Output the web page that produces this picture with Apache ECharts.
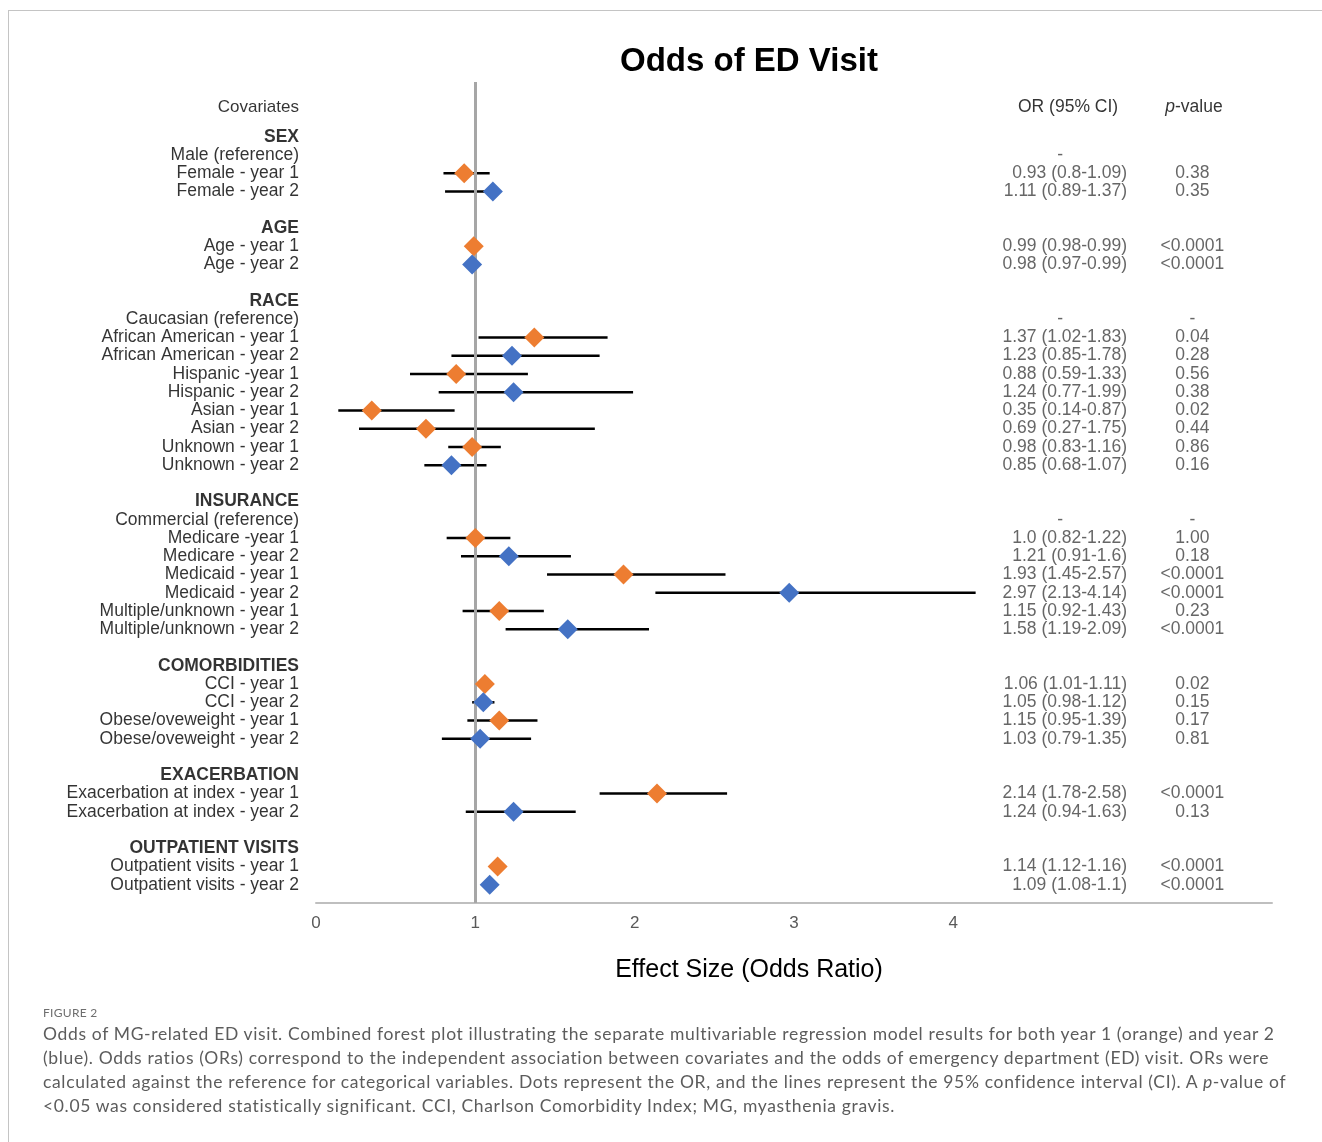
<!DOCTYPE html>
<html>
<head>
    <meta charset="utf-8">
    <title>Odds of ED Visit</title>
    <script src="https://cdn.jsdelivr.net/npm/echarts@6/dist/echarts.min.js"></script>
    <style>
        body { margin: 0; background: #fff; }
        #frame { position: absolute; left: 8px; top: 10px; width: 1400px; height: 1200px;
                 border-left: 1px solid #c4c4c4; border-top: 1px solid #c4c4c4; }
        #chart { position: absolute; left: 0; top: 0; width: 1322px; height: 1142px; }
        #caption { position: absolute; left: 43px; top: 1004px; font-family: Lato, "Open Sans", sans-serif; color: #5c5c5c; }
        #caption .fig { font-size: 12px; line-height: 18px; color: #6e6e6e; letter-spacing: 0.3px; }
        #caption .cap { font-size: 17.5px; line-height: 24px; white-space: nowrap; letter-spacing: 0.65px; }
    </style>
</head>
<body>
<div id="frame"></div>
<!-- 森林图容器 -->
<div id="chart"></div>
<div id="caption">
    <div class="fig">FIGURE 2</div>
    <div class="cap">Odds of MG-related ED visit. Combined forest plot illustrating the separate multivariable regression model results for both year 1 (orange) and year 2<br>(blue). Odds ratios (ORs) correspond to the independent association between covariates and the odds of emergency department (ED) visit. ORs were<br>calculated against the reference for categorical variables. Dots represent the OR, and the lines represent the 95% confidence interval (CI). A <i>p</i>-value of<br>&lt;0.05 was considered statistically significant. CCI, Charlson Comorbidity Index; MG, myasthenia gravis.</div>
</div>
<script type="text/javascript">

    // 行标签（空字符串为空行）
    var rowLabels = [
        'SEX', 'Male (reference)', 'Female - year 1', 'Female - year 2', '',
        'AGE', 'Age - year 1', 'Age - year 2', '',
        'RACE', 'Caucasian (reference)', 'African American - year 1', 'African American - year 2',
        'Hispanic -year 1', 'Hispanic - year 2', 'Asian - year 1', 'Asian - year 2',
        'Unknown - year 1', 'Unknown - year 2', '',
        'INSURANCE', 'Commercial (reference)', 'Medicare -year 1', 'Medicare - year 2',
        'Medicaid - year 1', 'Medicaid - year 2', 'Multiple/unknown - year 1', 'Multiple/unknown - year 2', '',
        'COMORBIDITIES', 'CCI - year 1', 'CCI - year 2', 'Obese/oveweight - year 1', 'Obese/oveweight - year 2', '',
        'EXACERBATION', 'Exacerbation at index - year 1', 'Exacerbation at index - year 2', '',
        'OUTPATIENT VISITS', 'Outpatient visits - year 1', 'Outpatient visits - year 2'
    ];
    var sectionNames = ['SEX', 'AGE', 'RACE', 'INSURANCE', 'COMORBIDITIES', 'EXACERBATION', 'OUTPATIENT VISITS'];

    // 右侧两列文字
    var orText = [
        '', '-', '0.93 (0.8-1.09)', '1.11 (0.89-1.37)', '',
        '', '0.99 (0.98-0.99)', '0.98 (0.97-0.99)', '',
        '', '-', '1.37 (1.02-1.83)', '1.23 (0.85-1.78)', '0.88 (0.59-1.33)', '1.24 (0.77-1.99)',
        '0.35 (0.14-0.87)', '0.69 (0.27-1.75)', '0.98 (0.83-1.16)', '0.85 (0.68-1.07)', '',
        '', '-', '1.0 (0.82-1.22)', '1.21 (0.91-1.6)', '1.93 (1.45-2.57)', '2.97 (2.13-4.14)',
        '1.15 (0.92-1.43)', '1.58 (1.19-2.09)', '',
        '', '1.06 (1.01-1.11)', '1.05 (0.98-1.12)', '1.15 (0.95-1.39)', '1.03 (0.79-1.35)', '',
        '', '2.14 (1.78-2.58)', '1.24 (0.94-1.63)', '',
        '', '1.14 (1.12-1.16)', '1.09 (1.08-1.1)'
    ];
    var pText = [
        '', '', '0.38', '0.35', '',
        '', '<0.0001', '<0.0001', '',
        '', '-', '0.04', '0.28', '0.56', '0.38', '0.02', '0.44', '0.86', '0.16', '',
        '', '-', '1.00', '0.18', '<0.0001', '<0.0001', '0.23', '<0.0001', '',
        '', '0.02', '0.15', '0.17', '0.81', '',
        '', '<0.0001', '0.13', '',
        '', '<0.0001', '<0.0001'
    ];

    // 绘制的点：所在行、OR、置信区间、颜色组
    var ptRow   = [2, 3, 6, 7, 11, 12, 13, 14, 15, 16, 17, 18, 22, 23, 24, 25, 26, 27, 30, 31, 32, 33, 36, 37, 40, 41];
    var ptOR    = [0.93, 1.11, 0.99, 0.98, 1.37, 1.23, 0.88, 1.24, 0.35, 0.69, 0.98, 0.85, 1.0, 1.21, 1.93, 2.97, 1.15, 1.58, 1.06, 1.05, 1.15, 1.03, 2.14, 1.24, 1.14, 1.09];
    var ptLow   = [0.80, 0.81, 0.98, 0.97, 1.02, 0.85, 0.59, 0.77, 0.14, 0.27, 0.83, 0.68, 0.82, 0.91, 1.45, 2.13, 0.92, 1.19, 1.01, 0.98, 0.95, 0.79, 1.78, 0.94, 1.12, 1.08];
    var ptHigh  = [1.09, 1.12, 0.99, 0.99, 1.83, 1.78, 1.33, 1.99, 0.87, 1.75, 1.16, 1.07, 1.22, 1.6, 2.57, 4.14, 1.43, 2.09, 1.11, 1.12, 1.39, 1.35, 2.58, 1.63, 1.16, 1.1];
    var ptGroup = ['o', 'b', 'o', 'b', 'o', 'b', 'o', 'b', 'o', 'o', 'o', 'b', 'o', 'b', 'o', 'b', 'o', 'b', 'o', 'b', 'o', 'b', 'o', 'b', 'o', 'b'];

    var xTicks = [0, 1, 2, 3, 4];

    var FONT = '"Liberation Sans", Arial, sans-serif';
    var ORANGE = '#ED7D31', BLUE = '#4472C4';
    var FS = 17.5;

    var myChart = echarts.init(document.getElementById('chart'));

    var ciData = [], orangePts = [], bluePts = [];
    ptRow.forEach(function (r, i) {
        ciData.push([ptLow[i], ptHigh[i], r]);
        if (ptGroup[i] === 'o') orangePts.push([ptOR[i], r]);
        else bluePts.push([ptOR[i], r]);
    });

    var labelData = [{value: [0, -1.6], name: 'Covariates', label: {fontSize: 17}}];
    var orData = [], pData = [];
    rowLabels.forEach(function (t, i) {
        if (t) {
            labelData.push({
                value: [0, i], name: t,
                label: {fontWeight: sectionNames.indexOf(t) >= 0 ? 'bold' : 'normal'}
            });
        }
        if (orText[i] === '-') {
            orData.push({value: [4.67, i], name: '-', label: {position: 'inside'}});
        } else if (orText[i]) {
            orData.push({value: [5.09, i], name: orText[i]});
        }
        if (pText[i]) pData.push({value: [5.5, i], name: pText[i]});
    });

    myChart.setOption({
        animation: false,
        textStyle: {fontFamily: FONT},
        title: {
            text: 'Odds of ED Visit',
            left: 749, top: 45, textAlign: 'center', padding: 0,
            textStyle: {fontSize: 33, fontWeight: 'bold', color: '#000', fontFamily: FONT}
        },
        grid: {left: 316, right: 50, top: 82, bottom: 239},
        xAxis: {
            type: 'value', min: 0, max: 6, interval: 1,
            name: 'Effect Size (Odds Ratio)', nameLocation: 'middle', nameGap: 55,
            nameTextStyle: {fontSize: 25, color: '#000', fontFamily: FONT, padding: [0, 90, 0, 0]},
            axisLine: {show: true, onZero: false, lineStyle: {color: '#BFBFBF', width: 2}},
            axisTick: {show: false},
            splitLine: {show: false},
            axisLabel: {
                fontSize: 17, color: '#595959', margin: 12, fontFamily: FONT,
                formatter: function (v) { return xTicks.indexOf(v) >= 0 ? String(v) : ''; }
            }
        },
        yAxis: {
            type: 'value', min: -3, max: 42, inverse: true, show: false
        },
        series: [
            {
                // OR = 1 参考线
                type: 'scatter', data: [], z: 1,
                markLine: {
                    silent: true, symbol: 'none', label: {show: false},
                    lineStyle: {color: '#A6A6A6', width: 3, type: 'solid'},
                    data: [{xAxis: 1}]
                }
            },
            {
                // 置信区间横线
                type: 'custom',
                data: ciData,
                encode: {x: [0, 1], y: 2},
                clip: false,
                renderItem: function (params, api) {
                    var a = api.coord([api.value(0), api.value(2)]);
                    var b = api.coord([api.value(1), api.value(2)]);
                    return {
                        type: 'line',
                        shape: {x1: a[0], y1: a[1], x2: b[0], y2: b[1]},
                        style: {stroke: '#000', lineWidth: 2.5}
                    };
                },
                z: 3
            },
            {
                type: 'scatter', data: orangePts, symbol: 'diamond', symbolSize: [20, 20],
                itemStyle: {color: ORANGE, opacity: 1}, z: 5
            },
            {
                type: 'scatter', data: bluePts, symbol: 'diamond', symbolSize: [20, 20],
                itemStyle: {color: BLUE, opacity: 1}, z: 5
            },
            {
                // 左侧协变量名称
                type: 'scatter', data: labelData, symbolSize: 0, clip: false, silent: true,
                label: {
                    show: true, position: 'left', distance: 17, formatter: '{b}',
                    fontSize: FS, color: '#000', fontFamily: FONT
                }
            },
            {
                type: 'scatter', data: orData, symbolSize: 0, clip: false, silent: true,
                label: {
                    show: true, position: 'left', distance: 0, formatter: '{b}',
                    fontSize: FS, color: '#404040', fontFamily: FONT
                }
            },
            {
                type: 'scatter', data: pData, symbolSize: 0, clip: false, silent: true,
                label: {
                    show: true, position: 'inside', formatter: '{b}',
                    fontSize: FS, color: '#404040', fontFamily: FONT
                }
            },
            {
                // 表头
                type: 'scatter', symbolSize: 0, clip: false, silent: true,
                data: [
                    {value: [4.72, -1.6], name: 'OR (95% CI)'},
                    {value: [5.51, -1.6], name: 'p'}
                ],
                label: {
                    show: true, position: 'inside', fontSize: 17.5, color: '#000', fontFamily: FONT,
                    formatter: function (p) {
                        return p.name === 'p' ? '{i|p}-value' : p.name;
                    },
                    rich: {i: {fontStyle: 'italic', fontSize: 17.5, color: '#000', fontFamily: FONT}}
                }
            }
        ]
    });

</script>
</body>
</html>
